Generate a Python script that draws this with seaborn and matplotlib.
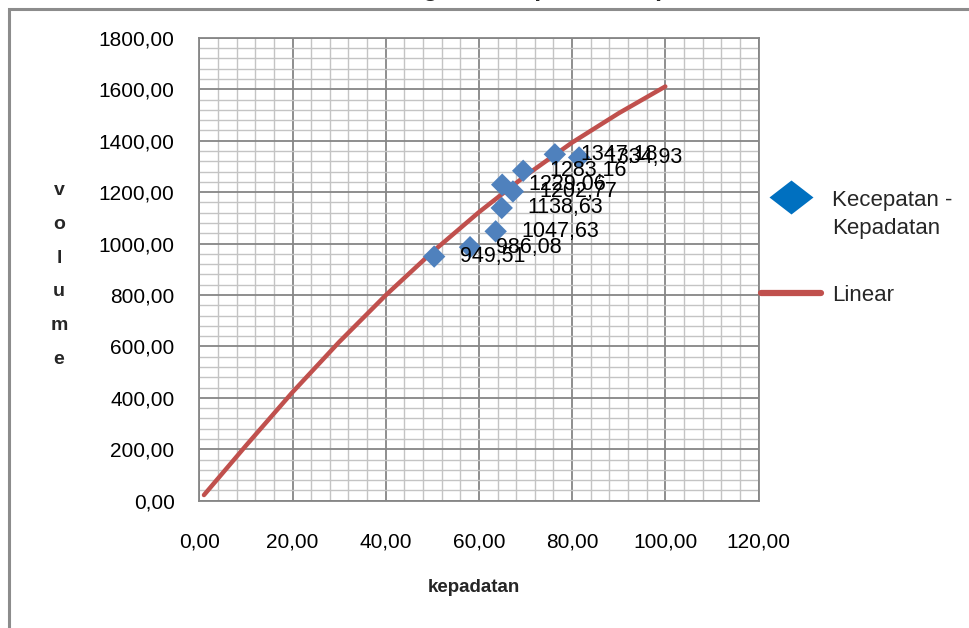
import numpy as np
import matplotlib
matplotlib.use("Agg")
import matplotlib.pyplot as plt
import matplotlib.ticker as mticker
from matplotlib.lines import Line2D
from matplotlib.markers import MarkerStyle
from matplotlib.patches import Rectangle
from matplotlib.transforms import Affine2D
import seaborn as sns

# ─────────────────────────────────────────────
# Data
# ─────────────────────────────────────────────

kepadatan = [50.4, 58.1, 63.6, 64.9, 65.0, 67.3, 69.5, 76.3, 81.5]
volume    = [949.51, 986.08, 1047.63, 1138.63, 1229.06, 1202.77, 1283.16, 1347.18, 1334.93]
labels    = ["949,51", "986,08", "1047,63", "1138,63", "1229,06",
             "1202,77", "1283,16", "1347,18", "1334,93"]

# fitted trend curve
fit_k = [1, 10, 20, 30, 40, 50, 60, 70, 80, 90, 100]
fit_v = [22, 214, 422, 617, 799, 967, 1122, 1264, 1393, 1507, 1611]

TITLE = "Hubungan Kecepatan - Kepadatan"

PT_BLUE  = "#4F81BD"
LEG_BLUE = "#0070C0"
RED      = "#C0504D"
MAJOR    = "#868686"
MINOR    = "#C4C4C4"

# ─────────────────────────────────────────────
# Figure
# ─────────────────────────────────────────────

sns.set_style("white")
plt.rcParams["font.family"] = ["Liberation Sans", "DejaVu Sans"]

W, H = 969, 628
fig = plt.figure(figsize=(W / 100, H / 100), dpi=100)

def px(x, y):
    return x / W, 1 - y / H

ax_l, ax_r, ax_t, ax_b = 199.3, 758.5, 37.9, 500.7
ax = fig.add_axes([ax_l / W, 1 - ax_b / H, (ax_r - ax_l) / W, (ax_b - ax_t) / H])

sns.lineplot(x=fit_k, y=fit_v, color=RED, lw=3.2, sort=False, estimator=None,
             ax=ax, zorder=3, legend=False)
sns.scatterplot(x=kepadatan, y=volume, marker="D", s=130, color=PT_BLUE,
                edgecolor="none", ax=ax, zorder=4, legend=False)

for k, v, lab in zip(kepadatan, volume, labels):
    ax.annotate(lab, (k, v), xytext=(26, 0), textcoords="offset pixels",
                ha="left", va="center", fontsize=15.5, color="black", zorder=5)

ax.set_xlim(0, 120)
ax.set_ylim(0, 1800)
ax.set_xticks(np.arange(0, 121, 20))
ax.set_yticks(np.arange(0, 1801, 200))
ax.xaxis.set_minor_locator(mticker.MultipleLocator(4))
ax.yaxis.set_minor_locator(mticker.MultipleLocator(40))

fmt = mticker.FuncFormatter(lambda v, _: f"{v:.2f}".replace(".", ","))
ax.xaxis.set_major_formatter(fmt)
ax.yaxis.set_major_formatter(fmt)

ax.grid(which="minor", color=MINOR, lw=1.0, zorder=0)
ax.grid(which="major", color=MAJOR, lw=1.3, zorder=1)
ax.set_axisbelow(True)

for s in ax.spines.values():
    s.set_color(MAJOR)
    s.set_linewidth(1.3)

ax.tick_params(which="major", direction="out", length=5.8, width=1.2,
               color=MAJOR, labelsize=15, labelcolor="black")
ax.tick_params(axis="x", pad=17)
ax.tick_params(axis="y", pad=12)
ax.tick_params(which="minor", length=0)
ax.set_xlabel("")
ax.set_ylabel("")

# axis titles
fig.text(*px(474, 588), "kepadatan", ha="center", va="center",
         fontsize=13.5, fontweight="bold")
fig.text(*px(59, 275), "v\no\nl\nu\nm\ne", ha="center", va="center",
         fontsize=14, fontweight="bold", linespacing=2.28)

# title, mostly cut off by the top edge
fig.text(*px(343.5, -4), TITLE, ha="left", va="baseline",
         fontsize=18, fontweight="bold")

# legend: diamond sits level with the first text line, slightly flattened
leg_diamond = MarkerStyle("D", transform=Affine2D().scale(1.17, 0.92).translate(0, 0.68))
handles = [
    Line2D([], [], ls="none", marker=leg_diamond, ms=19, color=LEG_BLUE, mec="none"),
    Line2D([], [], color=RED, lw=4.5),
]
leg = ax.legend(handles, ["Kecepatan -\nKepadatan", "Linear"],
                loc="upper left", bbox_to_anchor=px(761, 190),
                bbox_transform=fig.transFigure, frameon=False,
                fontsize=16, handlelength=2.7, handletextpad=0.5,
                labelspacing=2.05, borderpad=0, borderaxespad=0)
for t in leg.get_texts():
    t.set_linespacing(1.45)

# chart-area border (right and bottom edges fall outside the picture)
border = Rectangle((8.5 / W, -0.2), 1.2, 1.2 - 9 / H, transform=fig.transFigure,
                   fill=False, ec="#8C8C8C", lw=2.2)
fig.patches.append(border)

fig.savefig("out.png", dpi=100)
